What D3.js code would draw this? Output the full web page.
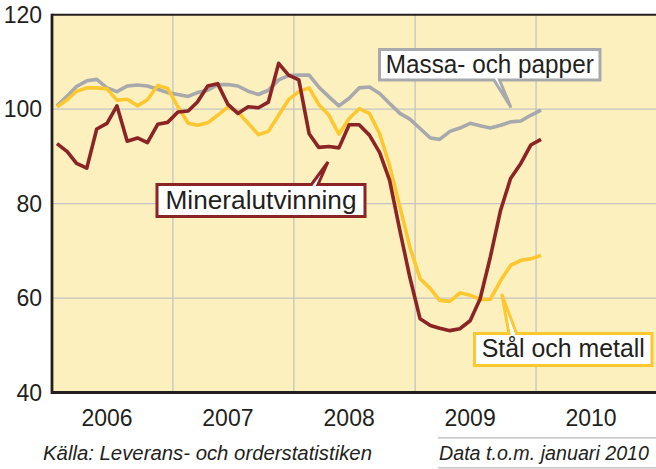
<!DOCTYPE html>
<html><head><meta charset="utf-8">
<script src="https://cdn.jsdelivr.net/npm/d3@7"></script>
<style>
html,body{margin:0;padding:0;background:#fff;}
svg{display:block;}
text{font-family:"Liberation Sans",Arial,sans-serif;fill:#231f20;}
</style></head>
<body><svg id="c" width="656" height="469"></svg>
<script>
// ---- data (monthly index, Jan 2006 – Jan 2010) ----
const startYear = 2006, startMonth = 0;
const massaOchPapper = [100.7,102.8,104.8,106.0,106.3,104.5,103.7,104.9,105.1,104.9,104.2,103.5,
  103.1,102.7,103.5,104.0,105.2,105.2,104.9,103.8,103.1,104.0,106.2,107.1,
  107.2,107.2,104.7,102.6,100.7,102.3,104.5,104.7,103.3,101.2,99.1,97.9,
  95.9,93.9,93.6,95.3,96.0,97.0,96.5,96.0,96.6,97.3,97.5,98.7,
  99.8];
const stalOchMetall = [100.5,102.0,103.8,104.5,104.5,104.3,101.9,102.1,100.7,102.0,105.0,104.4,
  100.5,97.0,96.6,97.1,98.7,100.5,99.4,97.0,94.6,95.3,98.7,102.0,
  103.7,104.5,101.0,98.7,94.7,98.0,100.1,99.1,94.8,88.0,79.3,70.8,
  64.1,62.0,59.5,59.3,61.1,60.6,59.7,59.7,63.7,66.9,68.0,68.3,
  69.0];
const mineralutvinning = [92.7,91.0,88.5,87.5,95.8,97.0,100.7,93.2,93.9,92.9,96.8,97.2,
  99.4,99.6,101.5,104.9,105.4,101.0,99.1,100.5,100.3,101.5,109.7,107.2,
  106.2,94.8,91.9,92.1,91.8,96.7,96.7,94.5,90.8,84.9,74.3,64.4,
  55.6,54.2,53.6,53.1,53.5,55.2,59.8,68.7,78.6,85.3,88.5,92.4,
  93.6];
const yTicks = [40,60,80,100,120];
const years = [2006,2007,2008,2009,2010];
const seriesNames = ["Massa- och papper","Stål och metall","Mineralutvinning"];
const sourceText = "Källa: Leverans- och orderstatistiken";
const noteText = "Data t.o.m. januari 2010";

// ---- layout ----
const svg = d3.select("#c");
const X0 = 52, X1 = 657, YT = 14.7, YB = 392.5;
const x = d3.scaleTime().domain([new Date(2006,0,1), new Date(2011,0,1)]).range([X0, X1]);
const y = d3.scaleLinear().domain([40,120]).range([YB, YT]);
const monthDate = i => new Date(startYear, startMonth + i, 16);

// plot background
svg.append("rect").attr("x", X0).attr("y", YT).attr("width", 656 - X0).attr("height", YB - YT).attr("fill", "#fdf0bf");

// grid
const grid = svg.append("g").attr("stroke", "#c3c3c3").attr("stroke-width", 1.3);
grid.selectAll("line.h").data(yTicks.filter(v => v > 40 && v < 120)).enter().append("line")
  .attr("x1", X0).attr("x2", 656).attr("y1", d => y(d)).attr("y2", d => y(d));
grid.selectAll("line.v").data(years.slice(1)).enter().append("line")
  .attr("x1", d => x(new Date(d,0,1))).attr("x2", d => x(new Date(d,0,1))).attr("y1", YT).attr("y2", YB);

// axes frame
svg.append("line").attr("x1", X0).attr("x2", 656).attr("y1", YT).attr("y2", YT).attr("stroke", "#231f20").attr("stroke-width", 2);
svg.append("line").attr("x1", X0).attr("x2", 656).attr("y1", YB).attr("y2", YB).attr("stroke", "#231f20").attr("stroke-width", 2.8);
svg.append("line").attr("x1", X0).attr("x2", X0).attr("y1", YT - 1).attr("y2", YB + 1.4).attr("stroke", "#231f20").attr("stroke-width", 2.8);

// y tick labels
svg.selectAll("text.yt").data(yTicks).enter().append("text")
  .attr("x", 42).attr("y", d => y(d) + 8.3).attr("text-anchor", "end")
  .attr("font-size", 23).text(d => d);

// year labels
svg.selectAll("text.xt").data(years).enter().append("text")
  .attr("x", d => x(new Date(d,6,1)) - 5).attr("y", 426).attr("text-anchor", "middle")
  .attr("font-size", 23).text(d => d);

// lines
const line = d3.line().x((d,i) => x(monthDate(i))).y(d => y(d));
const lines = [
  {v: massaOchPapper, c: "#a7a9ac"},
  {v: stalOchMetall, c: "#fdc82f"},
  {v: mineralutvinning, c: "#8b2525"}
];
svg.selectAll("path.s").data(lines).enter().append("path")
  .attr("d", d => line(d.v)).attr("fill", "none").attr("stroke", d => d.c)
  .attr("stroke-width", 3.6).attr("stroke-linejoin", "round").attr("stroke-linecap", "butt");

// callouts
function callout(o) {
  const {x0, y0, x1, y1, side, b0, b1, tx, ty} = o;
  let p;
  if (side === "bottom") p = `M${x0},${y0}H${x1}V${y1}H${b1}L${tx},${ty}L${b0},${y1}H${x0}Z`;
  else p = `M${x0},${y0}H${b0}L${tx},${ty}L${b1},${y0}H${x1}V${y1}H${x0}Z`;
  svg.append("path").attr("d", p).attr("fill", "#fff").attr("stroke", o.c).attr("stroke-width", 3).attr("stroke-linejoin", "miter");
  svg.append("text").attr("x", (x0 + x1) / 2).attr("y", o.base).attr("text-anchor", "middle")
    .attr("font-size", o.fs).attr("textLength", o.tl).attr("lengthAdjust", "spacingAndGlyphs").text(o.text);
}
callout({text: seriesNames[0], c: "#a7a9ac", x0: 379.5, y0: 49.5, x1: 600, y1: 80, side: "bottom", b0: 494, b1: 499.5, tx: 511, ty: 107.5, base: 72.7, fs: 25, tl: 208});
callout({text: seriesNames[2], c: "#8b2525", x0: 157, y0: 184.5, x1: 365, y1: 216.5, side: "top", b0: 311.5, b1: 318, tx: 328, ty: 162, base: 209.3, fs: 25, tl: 191});
callout({text: seriesNames[1], c: "#fdc82f", x0: 474.5, y0: 333.5, x1: 652, y1: 365.5, side: "top", b0: 509, b1: 516.5, tx: 501.7, ty: 294, base: 357.3, fs: 25, tl: 163});

// footer
svg.append("text").attr("x", 43).attr("y", 460).attr("font-size", 20.5).attr("font-style", "italic")
  .attr("fill", "#414042").attr("textLength", 329).attr("lengthAdjust", "spacingAndGlyphs").text(sourceText);
svg.append("line").attr("x1", 438).attr("x2", 656).attr("y1", 437.8).attr("y2", 437.8).attr("stroke", "#b8b8b8").attr("stroke-width", 1.2);
svg.append("line").attr("x1", 438).attr("x2", 656).attr("y1", 467.8).attr("y2", 467.8).attr("stroke", "#b8b8b8").attr("stroke-width", 1.2);
svg.append("text").attr("x", 439).attr("y", 459.5).attr("font-size", 20).attr("font-style", "italic")
  .attr("textLength", 210).attr("lengthAdjust", "spacingAndGlyphs").text(noteText);
</script></body></html>
